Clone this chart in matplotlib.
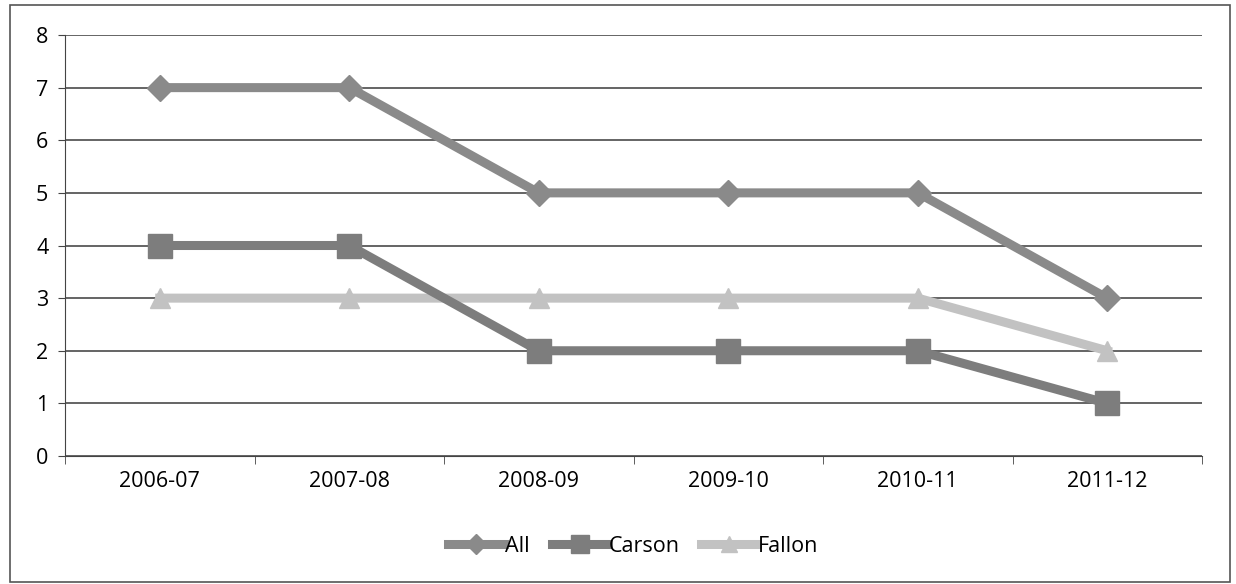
import matplotlib.pyplot as plt
from matplotlib.patches import Rectangle
import numpy as np

seasons = ["2006-07", "2007-08", "2008-09", "2009-10", "2010-11", "2011-12"]
all_vals = [7, 7, 5, 5, 5, 3]
carson_vals = [4, 4, 2, 2, 2, 1]
fallon_vals = [3, 3, 3, 3, 3, 2]

plt.rcParams['font.family'] = ['Open Sans', 'DejaVu Sans']

fig = plt.figure(figsize=(12.36, 5.84), dpi=100)
fig.patches.append(Rectangle((10 / 1236, 2 / 584), 1220 / 1236, 577 / 584,
                             transform=fig.transFigure, fill=False,
                             edgecolor="#555555", linewidth=1.2))

ax = fig.add_axes([65 / 1236, 1 - 456 / 584, 1137 / 1236, 421 / 584])
x = np.arange(len(seasons))

ax.plot(x, fallon_vals, color="#c2c2c2", linewidth=6.5, marker="^",
        markersize=15, label="Fallon", zorder=3)
ax.plot(x, carson_vals, color="#7d7d7d", linewidth=6.5, marker="s",
        markersize=17, label="Carson", zorder=4)
ax.plot(x, all_vals, color="#8a8a8a", linewidth=6.5, marker="D",
        markersize=13, label="All", zorder=5)

ax.set_xlim(-0.5, len(seasons) - 0.5)
ax.set_ylim(0, 8)
ax.set_yticks(range(0, 9))
ax.set_xticks(x)
ax.set_xticklabels(seasons)
ax.set_xticks(np.arange(-0.5, len(seasons)), minor=True)
ax.tick_params(axis="x", which="major", length=0, pad=11, labelsize=15.5)
ax.tick_params(axis="x", which="minor", length=6, color="#444444")
ax.tick_params(axis="y", length=5, color="#444444", labelsize=15.5, pad=7)
ax.yaxis.grid(True, color="#3a3a3a", linewidth=1.1)
ax.set_axisbelow(True)
for s in ["top", "right"]:
    ax.spines[s].set_visible(False)
ax.spines["left"].set_color("#444444")
ax.spines["bottom"].set_color("#444444")

handles, labels = ax.get_legend_handles_labels()
order = [2, 1, 0]
ax.legend([handles[i] for i in order], [labels[i] for i in order],
          loc="center", bbox_to_anchor=(0.5, -0.215), ncol=3, frameon=False,
          fontsize=15.5, handlelength=2.6, columnspacing=1.0, handletextpad=0.05,
          markerscale=0.8)

fig.savefig("out.png", dpi=100)
